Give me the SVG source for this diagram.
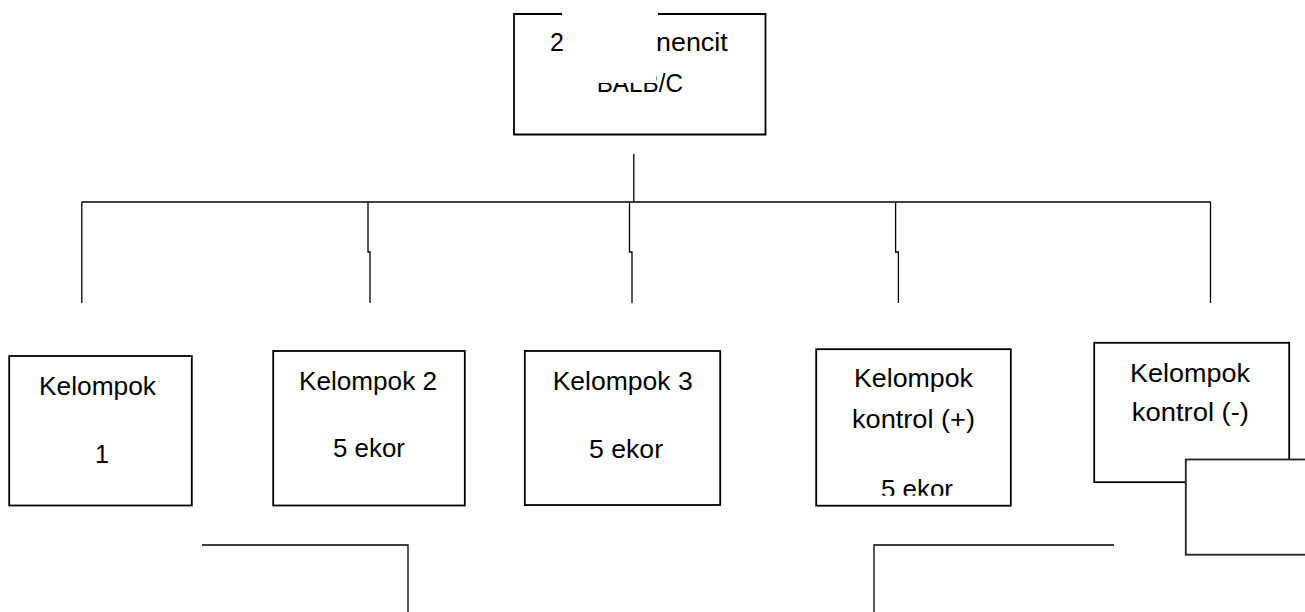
<svg xmlns="http://www.w3.org/2000/svg" width="1305" height="612" viewBox="0 0 1305 612">
<style>
  .box { fill: #ffffff; stroke: #000000; stroke-width: 1.8; }
  .open { fill: none; stroke: #000000; stroke-width: 1.8; }
  .gbox { fill: #ffffff; stroke: #2a2a2a; stroke-width: 1.9; }
  .t { font-family: "Liberation Sans", Arial, sans-serif; font-size: 25px; fill: #000000; }
  .c { fill: none; stroke: #000000; stroke-width: 1.3; }
</style>
<defs>
  <clipPath id="clipBalb">
    <rect x="0" y="83" width="1305" height="529"/>
    <rect x="656" y="0" width="649" height="612"/>
  </clipPath>
  <clipPath id="clipK4">
    <rect x="817" y="350" width="193" height="145.7"/>
  </clipPath>
</defs>
<rect width="1305" height="612" fill="#ffffff"/>

<g id="connectors">
  <path class="c" d="M633.8,154 V202"/>
  <path class="c" d="M81.8,202 H1210.5"/>
  <path class="c" d="M81.8,202 V303"/>
  <path class="c" d="M368,202 V252 H370 V303"/>
  <path class="c" d="M629.5,202 V252 H632 V303"/>
  <path class="c" d="M895.6,202 V252 H898.4 V303"/>
  <path class="c" d="M1210.5,202 V303"/>
  <path class="c" d="M202,545 H408 V612"/>
  <path class="c" d="M1114,545 H874 V612"/>
</g>

<g id="node-top">
  <path class="open" d="M562,14 H514 V134.5 H765.5 V14 H658"/>
  <text class="t" x="550" y="50.7">2</text>
  <text class="t" x="656" y="50.7" textLength="71.7" lengthAdjust="spacingAndGlyphs">nencit</text>
  <text class="t" x="596.7" y="91.7" textLength="86.3" lengthAdjust="spacingAndGlyphs" clip-path="url(#clipBalb)">BALB/C</text>
</g>

<g id="node-k1">
  <rect class="box" x="9.2" y="356" width="182.6" height="149.5"/>
  <text class="t" x="39" y="395" textLength="117" lengthAdjust="spacingAndGlyphs">Kelompok</text>
  <text class="t" x="95" y="462.7">1</text>
</g>

<g id="node-k2">
  <rect class="box" x="273.2" y="351" width="191.6" height="154.5"/>
  <text class="t" x="299" y="390" textLength="138" lengthAdjust="spacingAndGlyphs">Kelompok 2</text>
  <text class="t" x="333" y="457.3" textLength="72" lengthAdjust="spacingAndGlyphs">5 ekor</text>
</g>

<g id="node-k3">
  <rect class="box" x="524.8" y="351" width="195.4" height="154"/>
  <text class="t" x="552.7" y="390" textLength="140" lengthAdjust="spacingAndGlyphs">Kelompok 3</text>
  <text class="t" x="589" y="458.3" textLength="74" lengthAdjust="spacingAndGlyphs">5 ekor</text>
</g>

<g id="node-k4">
  <rect class="box" x="816.2" y="349.2" width="194.6" height="156.5"/>
  <text class="t" x="854" y="387.3" textLength="119" lengthAdjust="spacingAndGlyphs">Kelompok</text>
  <text class="t" x="852" y="428.3" textLength="123" lengthAdjust="spacingAndGlyphs">kontrol (+)</text>
  <text class="t" x="881" y="498" textLength="72" lengthAdjust="spacingAndGlyphs" clip-path="url(#clipK4)">5 ekor</text>
</g>

<g id="node-k5">
  <rect class="box" x="1094.2" y="342.8" width="195" height="139.4"/>
  <text class="t" x="1130" y="381.7" textLength="120" lengthAdjust="spacingAndGlyphs">Kelompok</text>
  <text class="t" x="1131.7" y="421" textLength="117.3" lengthAdjust="spacingAndGlyphs">kontrol (-)</text>
</g>

<g id="node-small">
  <rect class="gbox" x="1185.8" y="459.5" width="140" height="95.2"/>
</g>
</svg>
